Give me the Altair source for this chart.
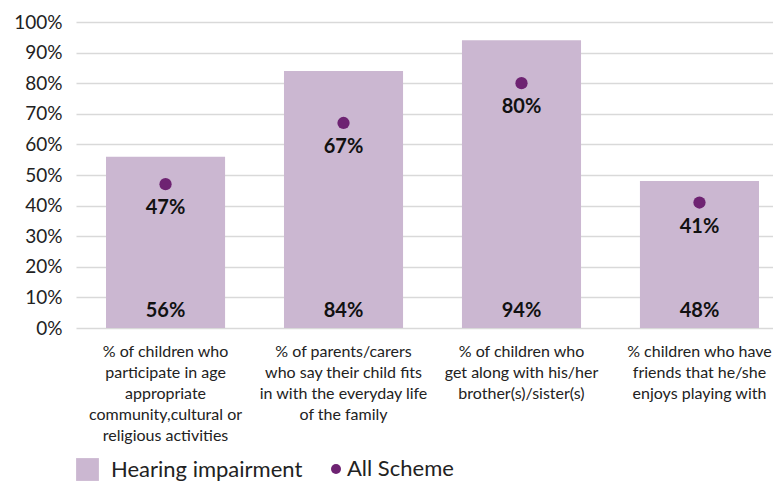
import altair as alt
import pandas as pd

categories = [
    "% of children who\nparticipate in age\nappropriate\ncommunity,cultural or\nreligious activities",
    "% of parents/carers\nwho say their child fits\nin with the everyday life\nof the family",
    "% of children who\nget along with his/her\nbrother(s)/sister(s)",
    "% children who have\nfriends that he/she\nenjoys playing with",
]
hearing = [0.56, 0.84, 0.94, 0.48]
all_scheme = [0.47, 0.67, 0.80, 0.41]
series_names = ["Hearing impairment", "All Scheme"]
y_ticks = [0.0, 0.1, 0.2, 0.3, 0.4, 0.5, 0.6, 0.7, 0.8, 0.9, 1.0]

bar_df = pd.DataFrame({"cat": categories, "value": hearing, "series": series_names[0]})
pt_df = pd.DataFrame({"cat": categories, "value": all_scheme, "series": series_names[1]})

FONT = "Lato"
BAR_C = "#CBB7D1"
DOT_C = "#6E2372"

x_scale = alt.Scale(paddingInner=0.331, paddingOuter=0.1236, align=0.682)
x_axis = alt.Axis(labelExpr="split(datum.label, '\\n')", labelAngle=0,
                  labelFontSize=16, labelColor="#222222", labelFont=FONT,
                  labelLineHeight=21, labelLimit=0, ticks=False, domain=False,
                  labelPadding=15, labelBaseline="top")
y_scale = alt.Scale(domain=[0, 1], nice=False)
y_axis = alt.Axis(format=".0%", values=y_ticks, labelOverlap=False,
                  labelFontSize=19, labelFont=FONT, labelColor="#222222",
                  ticks=False, domain=False, labelPadding=14,
                  minExtent=68, maxExtent=68,
                  gridColor="#D9D9D9", gridWidth=1.5)

x_enc = alt.X("cat:N", sort=categories, title=None, scale=x_scale, axis=x_axis)
y_enc = alt.Y("value:Q", scale=y_scale, title=None, axis=y_axis)

legend_common = dict(title=None, orient="bottom", direction="horizontal",
                     labelFont=FONT, labelFontSize=22, labelColor="#222222",
                     labelLimit=0, symbolStrokeWidth=0, offset=15)

bars = alt.Chart(bar_df).mark_bar(opacity=1).encode(
    x=x_enc,
    y=y_enc,
    color=alt.Color("series:N", scale=alt.Scale(domain=[series_names[0]], range=[BAR_C]),
                    legend=alt.Legend(symbolType="square", symbolSize=520, labelOffset=12,
                                      **legend_common)),
)

bar_text = alt.Chart(bar_df).mark_text(
    font=FONT, fontSize=20, fontWeight="bold", color="#111111", baseline="bottom", dy=-7
).encode(
    x=x_enc,
    y=alt.Y("zero:Q", scale=y_scale, title=None, axis=y_axis),
    text=alt.Text("value:Q", format=".0%"),
).transform_calculate(zero="0")

points = alt.Chart(pt_df).mark_point(filled=True, size=150, opacity=1, color=DOT_C).encode(
    x=x_enc,
    y=y_enc,
    shape=alt.Shape("series:N", scale=alt.Scale(domain=[series_names[1]], range=["circle"]),
                    legend=alt.Legend(symbolSize=100, symbolFillColor=DOT_C, labelOffset=0,
                                      symbolOffset=14, **legend_common)),
)

pt_text = alt.Chart(pt_df).mark_text(
    font=FONT, fontSize=20, fontWeight="bold", color="#111111", baseline="middle", dy=24
).encode(
    x=x_enc,
    y=y_enc,
    text=alt.Text("value:Q", format=".0%"),
)

chart = alt.layer(bars, bar_text, points, pt_text).properties(
    width=697, height=306,
    padding={"left": 0, "top": 5, "right": 0, "bottom": 0},
).configure_view(stroke=None)

chart.save("out.html", embed_options={"renderer": "svg", "actions": False})
